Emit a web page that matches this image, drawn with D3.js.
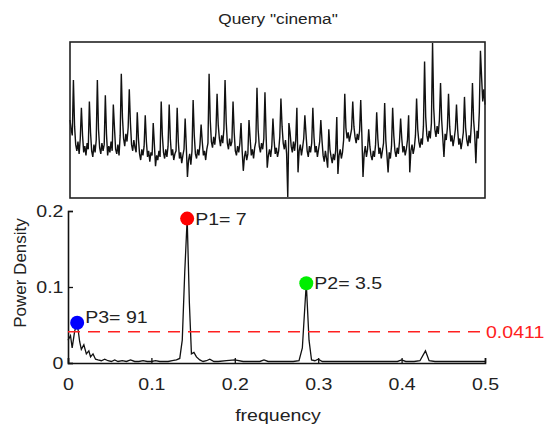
<!DOCTYPE html>
<html>
<head>
<meta charset="utf-8">
<script src="https://cdn.jsdelivr.net/npm/d3@7"></script>
<style>
  body { margin: 0; background: #fff; }
  svg { font-family: "Liberation Sans", Arial, sans-serif; }
</style>
</head>
<body>
<div id="chart"></div>
<script>
// daily query volume (relative), 365 days; first 3 days then one row per week (spike day first)
const queryVolume = [
  50, 44, 40,
  76, 46, 34, 30, 36, 28, 38,
  58, 40, 29, 33, 27, 35, 31,
  62, 42, 30, 26, 34, 29, 37,
  76, 44, 32, 28, 35, 30, 34,
  66, 41, 27, 33, 29, 36, 30,
  60, 45, 31, 28, 34, 27, 40,
  80, 52, 38, 33, 41, 36, 45,
  70, 48, 34, 30, 37, 32, 29,
  55, 38, 28, 24, 31, 27, 33,
  53, 36, 26, 30, 23, 29, 27,
  48, 34, 20, 27, 24, 30, 26,
  62, 40, 29, 25, 31, 26, 33,
  60, 38, 27, 31, 24, 28, 30,
  58, 36, 25, 29, 22, 27, 31,
  51, 33, 13, 24, 28, 21, 30,
  63, 40, 28, 25, 31, 27, 34,
  47, 36, 27, 30, 24, 31, 35,
  80, 50, 36, 32, 39, 34, 42,
  67, 47, 38, 33, 40, 35, 44,
  76, 49, 35, 31, 38, 33, 36,
  62, 42, 30, 27, 33, 29, 35,
  48, 30, 17, 26, 30, 24, 28,
  50, 38, 27, 31, 25, 32, 36,
  71, 44, 33, 29, 35, 31, 38,
  68, 40, 19, 27, 31, 26, 33,
  51, 37, 28, 32, 26, 30, 39,
  64, 46, 35, 31, 37, 28, 0,
  48, 42, 33, 29, 36, 30, 37,
  58, 16, 30, 34, 27, 32, 38,
  53, 41, 30, 26, 33, 29, 35,
  58, 39, 29, 33, 26, 31, 36,
  50, 37, 27, 23, 30, 25, 19,
  44, 31, 26, 22, 28, 24, 30,
  52, 15, 27, 31, 25, 29, 37,
  67, 45, 38, 42, 36, 40, 44,
  62, 46, 39, 35, 41, 37, 43,
  63, 40, 13, 28, 33, 26, 31,
  44, 33, 27, 24, 30, 26, 34,
  55, 38, 28, 32, 25, 30, 35,
  61, 37, 27, 16, 29, 25, 33,
  58, 40, 30, 26, 32, 28, 36,
  51, 38, 29, 33, 27, 31, 37,
  53, 16, 30, 34, 28, 32, 40,
  64, 44, 36, 32, 38, 34, 46,
  88, 52, 40, 36, 43, 38, 48,
  100, 58, 44, 39, 46, 41, 50,
  74, 50, 38, 26, 41, 37, 45,
  67, 46, 36, 40, 33, 38, 44,
  60, 44, 34, 38, 31, 36, 42,
  65, 45, 37, 33, 40, 35, 47,
  74, 50, 40, 22, 43, 38, 55,
  95, 78, 62, 70, 60
];

// periodogram [frequency, power density]
const spectrum = [
  [0, 0.030], [0.003, 0.036], [0.005, 0.020], [0.008, 0.042], [0.011, 0.053],
  [0.014, 0.028], [0.016, 0.018], [0.019, 0.024], [0.022, 0.012], [0.025, 0.016],
  [0.027, 0.008], [0.030, 0.012], [0.033, 0.005], [0.036, 0.004], [0.040, 0.003],
  [0.044, 0.005], [0.048, 0.003], [0.052, 0.002], [0.056, 0.004], [0.060, 0.002],
  [0.065, 0.003], [0.070, 0.002], [0.075, 0.004], [0.080, 0.002], [0.085, 0.002],
  [0.090, 0.003], [0.095, 0.002], [0.100, 0.002], [0.105, 0.003], [0.110, 0.002],
  [0.115, 0.002], [0.120, 0.002], [0.125, 0.003], [0.130, 0.004], [0.134, 0.006],
  [0.137, 0.030], [0.140, 0.120], [0.1429, 0.190], [0.1455, 0.080], [0.148, 0.012],
  [0.151, 0.014], [0.154, 0.008], [0.158, 0.004], [0.162, 0.002], [0.166, 0.003],
  [0.170, 0.005], [0.175, 0.002], [0.180, 0.002], [0.190, 0.003], [0.200, 0.004],
  [0.210, 0.002], [0.220, 0.002], [0.230, 0.002], [0.235, 0.004], [0.240, 0.002],
  [0.250, 0.002], [0.260, 0.002], [0.270, 0.002], [0.277, 0.003], [0.281, 0.020],
  [0.2857, 0.105], [0.289, 0.030], [0.292, 0.004], [0.296, 0.003], [0.300, 0.005],
  [0.305, 0.002], [0.315, 0.002], [0.330, 0.002], [0.350, 0.002], [0.370, 0.002],
  [0.385, 0.002], [0.395, 0.002], [0.400, 0.004], [0.405, 0.002], [0.415, 0.002],
  [0.422, 0.003], [0.4286, 0.016], [0.433, 0.003], [0.440, 0.002], [0.455, 0.002],
  [0.470, 0.002], [0.485, 0.002], [0.5, 0.002]
];

const peakNames = ["P1", "P2", "P3"];
const peakFreq = [1 / 7, 2 / 7, 1 / 91];
const peakPower = [0.19, 0.105, 0.053];
const peakPeriod = ["7", "3.5", "91"];
const threshold = 0.0411;

const xTicks = [0, 0.1, 0.2, 0.3, 0.4, 0.5];
const yTicks = [0, 0.1, 0.2];

const peakColors = ["#ff0000", "#00ee00", "#0000ff"];
const labelDy = [6, 6, 0];

// the source figure is a little wider than tall, so text is stretched sideways
const SX = 1.15;
function putText(x, y) {
  return `translate(${x},${y}) scale(${SX},1)`;
}

const svg = d3.select("#chart").append("svg")
  .attr("width", 548)
  .attr("height", 428);

// ---- top panel: query time series
const tx = d3.scaleLinear().domain([0, queryVolume.length - 1]).range([70, 485]);
const ty = d3.scaleLinear().domain(d3.extent(queryVolume)).range([197, 43]);

svg.append("text")
  .attr("transform", putText(278, 24))
  .attr("text-anchor", "middle")
  .style("font-size", "15px")
  .attr("fill", "#222")
  .text('Query "cinema"');

svg.append("path")
  .datum(queryVolume)
  .attr("fill", "none")
  .attr("stroke", "#111")
  .attr("stroke-width", 1.4)
  .attr("d", d3.line().x((d, i) => tx(i)).y(d => ty(d)));

svg.append("rect")
  .attr("x", 70).attr("y", 42)
  .attr("width", 415).attr("height", 156)
  .attr("fill", "none")
  .attr("stroke", "#222")
  .attr("stroke-width", 1.6);

// ---- bottom panel: spectrum
const fx = d3.scaleLinear().domain([0, 0.5]).range([68, 485]);
const fy = d3.scaleLinear().domain([0, 0.2]).range([363, 211]);

svg.append("path")
  .datum(spectrum)
  .attr("fill", "none")
  .attr("stroke", "#111")
  .attr("stroke-width", 1.3)
  .attr("d", d3.line().x(d => fx(d[0])).y(d => fy(d[1])));

const tickFmt = d => d === 0 ? "0" : d3.format(".1f")(d);

const xAxis = svg.append("g")
  .attr("transform", "translate(0,363)")
  .call(d3.axisBottom(fx).tickValues(xTicks).tickSize(-5).tickPadding(15).tickFormat(tickFmt));

const yAxis = svg.append("g")
  .attr("transform", "translate(68,0)")
  .call(d3.axisLeft(fy).tickValues(yTicks).tickSize(-5).tickPadding(4).tickFormat(tickFmt));

[xAxis, yAxis].forEach(function (ax) {
  ax.select(".domain").attr("stroke", "#111").attr("stroke-width", 1.6);
  ax.selectAll(".tick line").attr("stroke", "#111").attr("stroke-width", 1.3);
  ax.selectAll(".tick text")
    .attr("fill", "#222")
    .attr("transform", `scale(${SX},1)`)
    .style("font-size", "17px")
    .style("font-family", "'Liberation Sans', Arial, sans-serif");
});

svg.append("line")
  .attr("x1", fx(0)).attr("x2", fx(0.5))
  .attr("y1", fy(threshold)).attr("y2", fy(threshold))
  .attr("stroke", "#ff2020")
  .attr("stroke-width", 1.6)
  .attr("stroke-dasharray", "12,8");

svg.append("text")
  .attr("transform", putText(fx(0.5) + 1, fy(threshold)))
  .attr("dy", "0.35em")
  .attr("fill", "#ff2020")
  .style("font-size", "17px")
  .text(threshold);

peakNames.forEach(function (name, i) {
  svg.append("circle")
    .attr("cx", fx(peakFreq[i]))
    .attr("cy", fy(peakPower[i]))
    .attr("r", 7)
    .attr("fill", peakColors[i]);
  svg.append("text")
    .attr("transform", putText(fx(peakFreq[i]) + 8, fy(peakPower[i]) + labelDy[i]))
    .attr("fill", "#222")
    .style("font-size", "17px")
    .text(`${name}= ${peakPeriod[i]}`);
});

svg.append("text")
  .attr("transform", putText(278, 421))
  .attr("text-anchor", "middle")
  .attr("fill", "#222")
  .style("font-size", "17px")
  .text("frequency");

svg.append("text")
  .attr("transform", "translate(26,273) rotate(-90)")
  .attr("text-anchor", "middle")
  .attr("fill", "#222")
  .style("font-size", "17px")
  .text("Power Density");
</script>
</body>
</html>
